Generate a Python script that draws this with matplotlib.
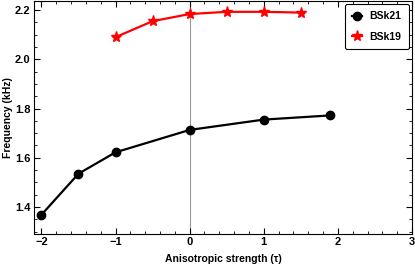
import matplotlib
matplotlib.use("Agg")
import matplotlib.pyplot as plt
from matplotlib.ticker import MultipleLocator

plt.rcParams['font.family'] = ['Liberation Sans', 'DejaVu Sans']
plt.rcParams['font.weight'] = 'bold'

x_bsk21 = [-2.0, -1.5, -1.0, 0.0, 1.0, 1.9]
y_bsk21 = [1.368, 1.535, 1.622, 1.713, 1.755, 1.772]
x_bsk19 = [-1.0, -0.5, 0.0, 0.5, 1.0, 1.5]
y_bsk19 = [2.090, 2.155, 2.184, 2.193, 2.193, 2.190]

fig = plt.figure(figsize=(4.15, 2.66), dpi=100)
ax = fig.add_axes([34/415, 32/266, (412-34)/415, (265-32)/266])

ax.axvline(0, color='#999999', lw=0.8, zorder=1)
ax.plot(x_bsk21, y_bsk21, color='black', marker='o', ms=6, lw=1.6, label='BSk21', zorder=3)
ax.plot(x_bsk19, y_bsk19, color='red', marker='*', ms=8, lw=1.6, label='BSk19', zorder=3)

ax.set_xlim(-2.1, 3.0)
ax.set_ylim(1.29, 2.237)
ax.xaxis.set_major_locator(MultipleLocator(1))
ax.xaxis.set_minor_locator(MultipleLocator(0.2))
ax.yaxis.set_major_locator(MultipleLocator(0.2))
ax.yaxis.set_minor_locator(MultipleLocator(0.05))
ax.xaxis.set_major_formatter(matplotlib.ticker.FuncFormatter(lambda v, p: f"{int(round(v))}".replace('-', '\u2212')))
ax.yaxis.set_major_formatter(matplotlib.ticker.FormatStrFormatter('%.1f'))
ax.tick_params(which='both', direction='in', top=True, right=True, labelsize=8, pad=2.5)
ax.tick_params(which='major', length=4, width=0.8)
ax.tick_params(which='minor', length=2, width=0.6)
for lab in ax.get_xticklabels() + ax.get_yticklabels():
    lab.set_fontweight('bold')
for s in ax.spines.values():
    s.set_linewidth(0.8)

ax.set_xlabel('Anisotropic strength (\u03c4)', fontsize=7.5, fontweight='bold', labelpad=5)
ax.set_ylabel('Frequency (kHz)', fontsize=7.5, fontweight='bold')
ax.yaxis.set_label_coords(-21/378, 0.5)

leg = ax.legend(loc='upper right', prop={'weight': 'bold', 'size': 7.5},
                frameon=True, fancybox=True, edgecolor='black', borderpad=0.7,
                labelspacing=1.0, handlelength=1.0, handletextpad=0.7,
                borderaxespad=0.3, framealpha=1)
leg.get_frame().set_linewidth(0.8)

fig.savefig('out.png', dpi=100)
